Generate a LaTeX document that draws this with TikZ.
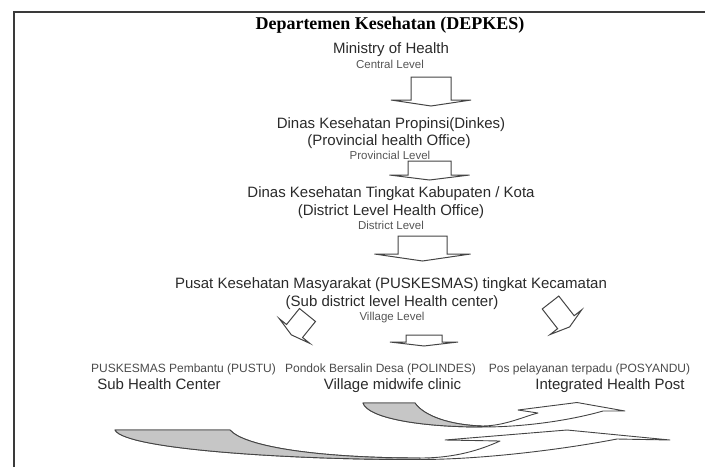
\documentclass[tikz,border=0pt]{standalone}
\usepackage{fontspec}
\setmainfont{Liberation Sans}
\newfontfamily\titlefont{Liberation Serif}
\definecolor{maintext}{HTML}{2A2A2A}
\definecolor{lvltext}{HTML}{555555}
\definecolor{subtext}{HTML}{4A4A4A}
\definecolor{arrowc}{HTML}{444444}
\definecolor{framec}{HTML}{3A3A3A}
\definecolor{shade}{HTML}{C6C6C6}
\newcommand{\blockarr}[7]{%
  \draw[blk, shift={(#1,#2)}, rotate=#3] (-#4,0) -- (#4,0) -- (#4,#5) -- (#6,#5) -- (0,#5+#7) -- (-#6,#5) -- (-#4,#5) -- cycle;}
\begin{document}
\begin{tikzpicture}[x=1pt,y=-1pt,
  titlestyle/.style={font={\titlefont\bfseries\fontsize{18}{20}\selectfont}, text=black, inner sep=0pt, anchor=base},
  main/.style={font=\fontsize{15}{17}\selectfont, text=maintext, inner sep=0pt, anchor=base},
  big/.style={font=\fontsize{15}{17}\selectfont, text=maintext, inner sep=0pt, anchor=base},
  lvl/.style={font=\fontsize{11.5}{13}\selectfont, text=lvltext, inner sep=0pt, anchor=base},
  sub/.style={font=\fontsize{12}{14}\selectfont, text=subtext, inner sep=0pt, anchor=base},
  blk/.style={draw=arrowc, line width=1pt, fill=white, line join=miter},
  curve/.style={draw=arrowc, line width=0.9pt, fill=white, line join=round},
  curveshade/.style={draw=arrowc, line width=0.9pt, fill=shade, line join=round}]
\useasboundingbox (0,0) rectangle (705,467);
% frame
\draw[framec, line width=1.6pt] (14,467) -- (14,12) -- (705,12);
% texts
\node[titlestyle] (depkes) at (390,29) {Departemen Kesehatan (DEPKES)};
\node[main] (moh) at (391,53) {Ministry of Health};
\node[lvl] (central) at (390,68) {Central Level};
\node[main] (dinprov) at (391,128.5) {Dinas Kesehatan Propinsi(Dinkes)};
\node[main] (provoff) at (389,145.5) {(Provincial health Office)};
\node[lvl] (provlvl) at (390,159) {Provincial Level};
\node[main] (dinkab) at (391,197) {Dinas Kesehatan Tingkat Kabupaten / Kota};
\node[main] (distoff) at (391,215) {(District Level Health Office)};
\node[lvl] (distlvl) at (391,229) {District Level};
\node[main] (pusk) at (391,288) {Pusat Kesehatan Masyarakat (PUSKESMAS) tingkat Kecamatan};
\node[main] (subdist) at (392,306) {(Sub district level Health center)};
\node[lvl] (villvl) at (392,320) {Village Level};
\node[sub] (pustu) at (183.5,372.5) {PUSKESMAS Pembantu (PUSTU)};
\node[big] (shc) at (159,389.5) {Sub Health Center};
\node[sub] (polindes) at (380.5,372.5) {Pondok Bersalin Desa (POLINDES)};
\node[big] (vmc) at (392.5,389.5) {Village midwife clinic};
\node[sub] (posyandu) at (589.5,372.5) {Pos pelayanan terpadu (POSYANDU)};
\node[big] (ihp) at (610,389.5) {Integrated Health Post};
% block arrows
\blockarr{431}{77}{0}{20}{23}{40}{6}
\blockarr{429.5}{161}{0}{21.5}{14}{40}{5}
\blockarr{422.5}{236}{0}{24.5}{18}{48}{7}
\blockarr{424}{335}{0}{18}{7}{34}{4}
\blockarr{307.5}{315}{-39}{10.3}{20.6}{19.6}{5}
\blockarr{550.5}{302.5}{38}{10.5}{25}{20}{6}
% upper curved arrow
\path[curve] (363,403) -- (415,403) .. controls (424,416) and (450,425) .. (482,426)
  .. controls (505,426) and (525,416) .. (538,413) -- (518,410) -- (577,402.5) -- (625,411) -- (603,411)
  .. controls (575,419) and (530,427) .. (482,427) .. controls (420,427) and (368,418) .. (363,403) -- cycle;
\path[curveshade] (363,403) -- (415,403) .. controls (424,416) and (450,425) .. (482,426)
  -- (482,427) .. controls (420,427) and (368,418) .. (363,403) -- cycle;
% lower curved arrow
\path[curve] (115,430) -- (230,430) .. controls (245,447) and (320,458) .. (420,458)
  .. controls (455,458) and (480,450) .. (500,441) -- (445,440) -- (567,430) -- (670,440) -- (617,439)
  .. controls (560,450) and (480,459.5) .. (420,459.5) .. controls (300,460) and (125,450) .. (115,430) -- cycle;
\path[curveshade] (115,430) -- (230,430) .. controls (245,447) and (320,458) .. (420,458)
  -- (420,459.5) .. controls (300,460) and (125,450) .. (115,430) -- cycle;
\end{tikzpicture}
\end{document}
